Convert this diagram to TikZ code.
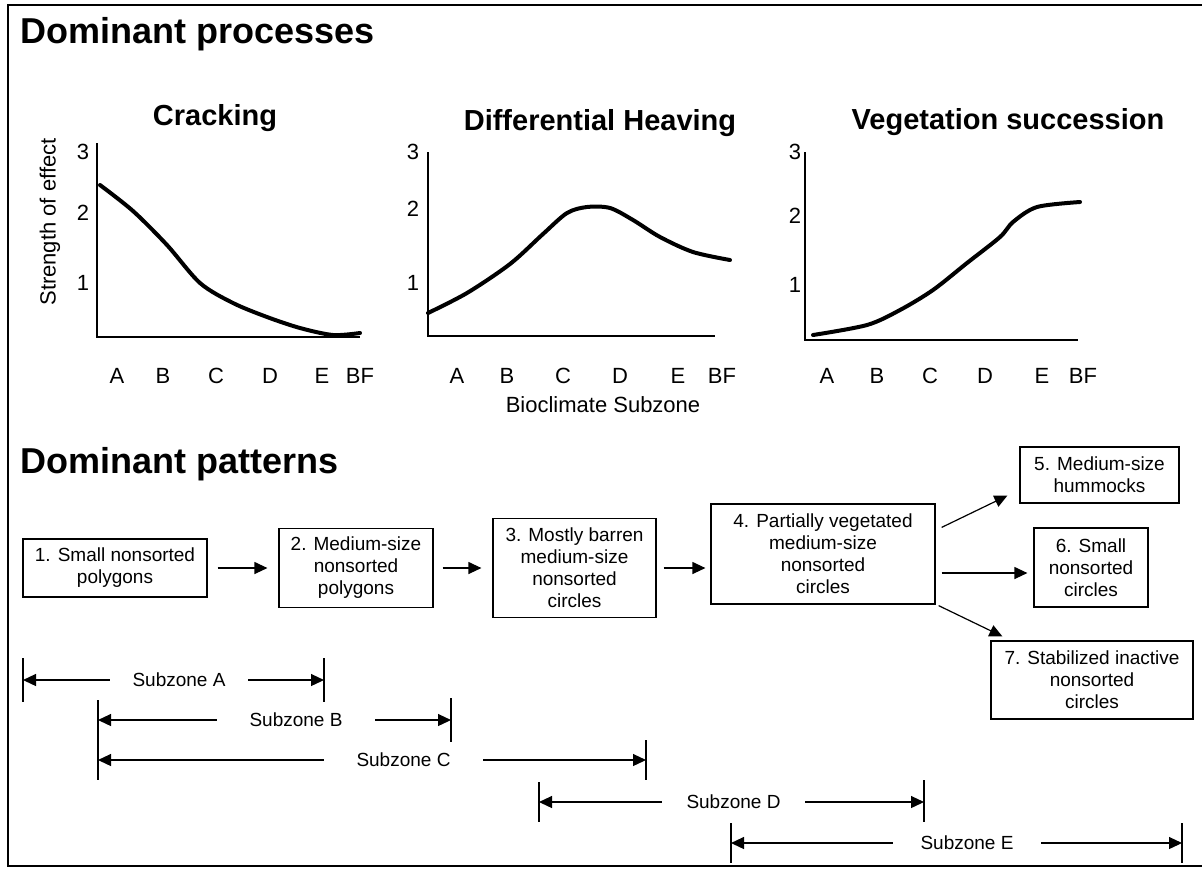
\documentclass[tikz,border=0pt]{standalone}
\usepackage{fontspec}
\setmainfont{Liberation Sans}
\usetikzlibrary{arrows.meta}

\tikzset{
	box/.style={draw,line width=0.6pt,align=center,inner sep=2pt,font=\fontsize{9.5}{11}\selectfont},
	arr/.style={-{Triangle[length=6.5pt,width=6pt]},line width=0.6pt},
	curve/.style={line width=2pt,line cap=round},
	axis/.style={line width=0.7pt},
	lab/.style={font=\fontsize{11}{13}\selectfont,inner sep=0pt},
	zone/.style={font=\fontsize{9.5}{11}\selectfont,inner sep=0pt},
	ztick/.style={line width=0.6pt},
	heading/.style={font=\fontsize{18}{20}\selectfont\bfseries,anchor=base west,inner sep=0pt},
	ctitle/.style={font=\fontsize{14.5}{16}\selectfont\bfseries,anchor=base,inner sep=0pt}
}

\begin{document}
\begin{tikzpicture}[x=0.5pt,y=-0.5pt]
	\useasboundingbox (0,0) rectangle (1202,869);
	\draw[line width=1pt] (1202,5) -- (8,5) -- (8,866) -- (1202,866);

	\node[heading] (proc) at (20,43) {Dominant processes};
	\node[heading] (patt) at (20,473) {Dominant patterns};

	% Cracking
	\node[ctitle] (t1) at (215,125) {Cracking};
	\draw[axis] (97,143) -- (97,337) -- (360,337);
	\node[lab] (c1y3) at (83,152) {3};
	\node[lab] (c1y2) at (83,213) {2};
	\node[lab] (c1y1) at (83,283) {1};
	\node[lab,rotate=90] (ylab) at (50,222) {Strength of effect};
	\foreach \x/\t in {117/A,163/B,216/C,270/D,322/E,360/BF}
		\node[lab,anchor=base] (c1\t) at (\x,383) {\t};
	\draw[curve] plot[smooth] coordinates {(100,185) (133,211) (167,245) (200,283) (233,303) (267,317) (300,328) (333,335) (360,333)};

	% Differential Heaving
	\node[ctitle] (t2) at (600,130) {Differential Heaving};
	\draw[axis] (428,152) -- (428,336) -- (715,336);
	\node[lab] (c2y3) at (413,152) {3};
	\node[lab] (c2y2) at (413,209) {2};
	\node[lab] (c2y1) at (413,283) {1};
	\foreach \x/\t in {457/A,507/B,563/C,620/D,678/E,722/BF}
		\node[lab,anchor=base] (c2\t) at (\x,383) {\t};
	\node[lab,anchor=base] (xlab) at (603,412) {Bioclimate Subzone};
	\draw[curve] plot[smooth] coordinates {(428,313) (467,293) (510,264) (543,234) (567,213) (587,207) (610,208) (633,220) (660,237) (693,252) (730,260)};

	% Vegetation succession
	\node[ctitle] (t3) at (1008,129) {Vegetation succession};
	\draw[axis] (805,152) -- (805,340) -- (1078,340);
	\node[lab] (c3y3) at (795,152) {3};
	\node[lab] (c3y2) at (795,216) {2};
	\node[lab] (c3y1) at (795,285) {1};
	\foreach \x/\t in {827/A,877/B,930/C,985/D,1042/E,1083/BF}
		\node[lab,anchor=base] (c3\t) at (\x,383) {\t};
	\draw[curve] plot[smooth] coordinates {(813,335) (867,325) (900,310) (933,290) (967,263) (1000,237) (1013,222) (1037,207) (1080,202)};

	% patterns
	\node[box,minimum width=92pt,minimum height=29pt] (b1) at (115,568) {1. Small nonsorted\\polygons};
	\node[box,minimum width=77pt,minimum height=39.5pt] (b2) at (356,568) {2. Medium-size\\nonsorted\\polygons};
	\node[box,minimum width=81.5pt,minimum height=49.5pt] (b3) at (574.5,568) {3. Mostly barren\\medium-size\\nonsorted\\circles};
	\node[box,minimum width=112pt,minimum height=50pt] (b4) at (823,554) {4. Partially vegetated\\medium-size\\nonsorted\\circles};
	\node[box,minimum width=79.5pt,minimum height=28pt] (b5) at (1099.5,475) {5. Medium-size\\hummocks};
	\node[box,minimum width=57pt,minimum height=39.5pt] (b6) at (1091,567.5) {6. Small\\nonsorted\\circles};
	\node[box,minimum width=101pt,minimum height=39pt] (b7) at (1092,680) {7. Stabilized inactive\\nonsorted\\circles};

	\draw[arr,shorten <=5pt,shorten >=5.5pt] (b1) -- (b2);
	\draw[arr,shorten <=4.5pt,shorten >=5.5pt] (b2) -- (b3);
	\draw[arr,shorten <=3.5pt,shorten >=2.5pt] (b3.east) -- (b3.east -| b4.west);
	\draw[arr] ([shift={(3pt,-12pt)}]b4.north east) -- ([shift={(-6pt,4pt)}]b5.south west);
	\draw[arr,shorten <=3pt,shorten >=3pt] ([yshift=-9.5pt]b4.east) -- ([yshift=-9.5pt]b4.east -| b6.west);
	\draw[arr] ([shift={(1.5pt,-0.5pt)}]b4.south east) -- ([shift={(6pt,2pt)}]b7.north west);

	% subzones
	\coordinate (zAl) at (23,680);
	\coordinate (zAr) at (324,680);
	\coordinate (zBl) at (98,720);
	\coordinate (zBr) at (451,720);
	\coordinate (zCl) at (98,760);
	\coordinate (zCr) at (646,760);
	\coordinate (zDl) at (539,802);
	\coordinate (zDr) at (924,802);
	\coordinate (zEl) at (731,843);
	\coordinate (zEr) at (1182,843);

	\node[zone,minimum width=69pt] (zA) at (179,680) {Subzone A};
	\node[zone,minimum width=79pt] (zB) at (296,720) {Subzone B};
	\node[zone,minimum width=79.5pt] (zC) at (403.5,760) {Subzone C};
	\node[zone,minimum width=71.5pt] (zD) at (733.5,802) {Subzone D};
	\node[zone,minimum width=74pt] (zE) at (967,843) {Subzone E};

	\draw[ztick] ([yshift=11pt]zAl) -- ([yshift=-11pt]zAl);
	\draw[ztick] ([yshift=11pt]zAr) -- ([yshift=-11pt]zAr);
	\draw[ztick] ([yshift=10pt]zBl) -- ([yshift=-10pt]zCl);
	\draw[ztick] ([yshift=11pt]zBr) -- ([yshift=-11pt]zBr);
	\draw[ztick] ([yshift=10pt]zCr) -- ([yshift=-10pt]zCr);
	\draw[ztick] ([yshift=10pt]zDl) -- ([yshift=-10pt]zDl);
	\draw[ztick] ([yshift=11pt]zDr) -- ([yshift=-10pt]zDr);
	\draw[ztick] ([yshift=10pt]zEl) -- ([yshift=-10pt]zEl);
	\draw[ztick] ([yshift=10pt]zEr) -- ([yshift=-10pt]zEr);

	\draw[arr] (zA) -- (zAl);
	\draw[arr] (zA) -- (zAr);
	\draw[arr] (zB) -- (zBl);
	\draw[arr] (zB) -- (zBr);
	\draw[arr] (zC) -- (zCl);
	\draw[arr] (zC) -- (zCr);
	\draw[arr] (zD) -- (zDl);
	\draw[arr] (zD) -- (zDr);
	\draw[arr] (zE) -- (zEl);
	\draw[arr] (zE) -- (zEr);
\end{tikzpicture}
\end{document}
